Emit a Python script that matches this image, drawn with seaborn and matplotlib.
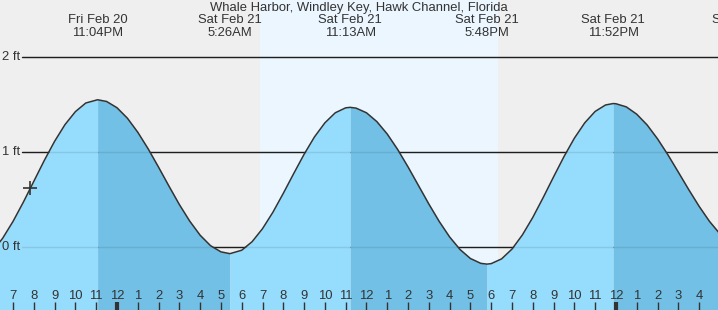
import matplotlib
matplotlib.use("Agg")
import matplotlib.pyplot as plt
import matplotlib.transforms as mtransforms
import numpy as np
import pandas as pd
import seaborn as sns

# ---------------- data (hours relative to midnight Sat Feb 21) ----------------
tide_hours = [-6.0, -5.5, -5.0, -4.5, -4.0, -3.5, -3.0, -2.5, -2.0, -1.5, -0.933,
              -0.5, 0.0, 0.5, 1.0, 1.5, 2.0, 2.5, 3.0, 3.5, 4.0, 4.5, 5.0, 5.433,
              6.0, 6.5, 7.0, 7.5, 8.0, 8.5, 9.0, 9.5, 10.0, 10.5, 11.0, 11.217,
              11.5, 12.0, 12.5, 13.0, 13.5, 14.0, 14.5, 15.0, 15.5, 16.0, 16.5, 17.0, 17.5, 17.8,
              18.0, 18.5, 19.0, 19.5, 20.0, 20.5, 21.0, 21.5, 22.0, 22.5, 23.0, 23.5, 23.867,
              24.0, 24.5, 25.0, 25.5, 26.0, 26.5, 27.0, 27.5, 28.0, 28.5, 29.0]
tide_feet = [-0.048, 0.092, 0.270, 0.474, 0.692, 0.910, 1.113, 1.289, 1.425, 1.516, 1.55,
             1.532, 1.466, 1.356, 1.208, 1.033, 0.840, 0.641, 0.447, 0.272, 0.124, 0.014, -0.051, -0.07,
             -0.034, 0.056, 0.193, 0.366, 0.565, 0.773, 0.976, 1.159, 1.307, 1.413, 1.465, 1.47,
             1.462, 1.413, 1.320, 1.189, 1.027, 0.843, 0.648, 0.453, 0.269, 0.106, -0.026, -0.121, -0.172, -0.18,
             -0.175, -0.125, -0.022, 0.127, 0.311, 0.520, 0.738, 0.951, 1.145, 1.307, 1.427, 1.495, 1.51,
             1.508, 1.475, 1.398, 1.285, 1.139, 0.971, 0.789, 0.605, 0.429, 0.270, 0.139]

extreme_hours = [-7.1, -0.933, 5.433, 11.217, 17.8, 23.867, 30.15]
extreme_feet = [-0.18, 1.55, -0.07, 1.47, -0.18, 1.51, -0.03]
extreme_dates = ["Fri Feb 20", "Fri Feb 20", "Sat Feb 21", "Sat Feb 21", "Sat Feb 21", "Sat Feb 21", "Sat Feb 22"]
extreme_times = ["4:54PM", "11:04PM", "5:26AM", "11:13AM", "5:48PM", "11:52PM", "6:09AM"]

sunrise_hour, sunset_hour = 6.88, 18.33
now_hour, now_feet = -4.18, 0.62
grid_feet = [0, 1, 2]
grid_labels = ["0 ft", "1 ft", "2 ft"]
hour_ticks = list(range(-5, 29))
hour_labels = [str((h % 12) or 12) for h in hour_ticks]
title = "Whale Harbor, Windley Key, Hawk Channel, Florida"

# ---------------- style ----------------
sns.set_style("white")
plt.rcParams["font.family"] = ["Liberation Sans", "DejaVu Sans"]
TXT = "#333333"
BG = "#efefef"
DAY = "#ebf6fe"
LIGHT = "#96dcfc"
DARK = "#72c0e5"
FS = 9.4

df = pd.DataFrame({"hour": tide_hours, "feet": tide_feet})

fig = plt.figure(figsize=(7.18, 3.10), dpi=100)
ax = fig.add_axes([0, 0, 1, 1])
ax.set_facecolor(BG)
ax.set_xlim(-5.628, 28.91)
ax.set_ylim(-0.663, 2.6)
for s in ax.spines.values():
    s.set_visible(False)

# daylight band
ax.axvspan(sunrise_hour, sunset_hour, color=DAY, zorder=0, lw=0)

# grid lines (black in background, faint under water)
x0 = 22 / 718
for g in grid_feet:
    ax.axhline(g, xmin=x0, xmax=1, color="#222222", lw=1.0, zorder=1)

# filled water, light when rising, dark when falling
t = np.array(tide_hours)
h = np.array(tide_feet)
for i in range(len(extreme_hours) - 1):
    a, b = extreme_hours[i], extreme_hours[i + 1]
    m = (t >= a) & (t <= b)
    if m.sum() < 2:
        continue
    col = LIGHT if extreme_feet[i + 1] > extreme_feet[i] else DARK
    ax.fill_between(t[m], h[m], -1, color=col, lw=0, zorder=2)

for g in grid_feet:
    ax.axhline(g, xmin=x0, xmax=1, color=(0, 0, 0, 0.09), lw=1.0, zorder=3)

# curve
sns.lineplot(data=df, x="hour", y="feet", ax=ax, color="#333333", lw=1.1, zorder=4, sort=False)
ax.set_xlabel("")
ax.set_ylabel("")
ax.set_xticks([])
ax.set_yticks([])

# current time marker
ax.plot([now_hour], [now_feet], marker="+", ms=10, mew=1.2, color="#333333", zorder=5, ls="none")

# y labels
ytr = mtransforms.blended_transform_factory(ax.transAxes, ax.transData)
for g, lab in zip(grid_feet, grid_labels):
    ax.text(2 / 718, g, lab, transform=ytr, ha="left", va="center", fontsize=FS, color=TXT, zorder=6)

# top labels
xtr = mtransforms.blended_transform_factory(ax.transData, ax.transAxes)
ax.text(0.5, 1 - 7.5 / 310, title, transform=ax.transAxes, ha="center", va="center", fontsize=FS, color=TXT)
for xh, d, tm in zip(extreme_hours, extreme_dates, extreme_times):
    ax.text(xh, 1 - 20 / 310, d, transform=xtr, ha="center", va="center", fontsize=FS, color=TXT, clip_on=False)
    ax.text(xh, 1 - 32.5 / 310, tm, transform=xtr, ha="center", va="center", fontsize=FS, color=TXT, clip_on=False)

# bottom hour ticks and labels
for xh, lab in zip(hour_ticks, hour_labels):
    ax.text(xh, 1 - 296 / 310, lab, transform=xtr, ha="center", va="center", fontsize=FS, color=TXT, zorder=6)
    lw = 3 if xh % 24 == 0 else 1
    ax.plot([xh, xh], [0, 8 / 310], transform=xtr, color="#333333", lw=lw, zorder=6, solid_capstyle="butt")

fig.savefig("out.png", dpi=100, facecolor=BG)
